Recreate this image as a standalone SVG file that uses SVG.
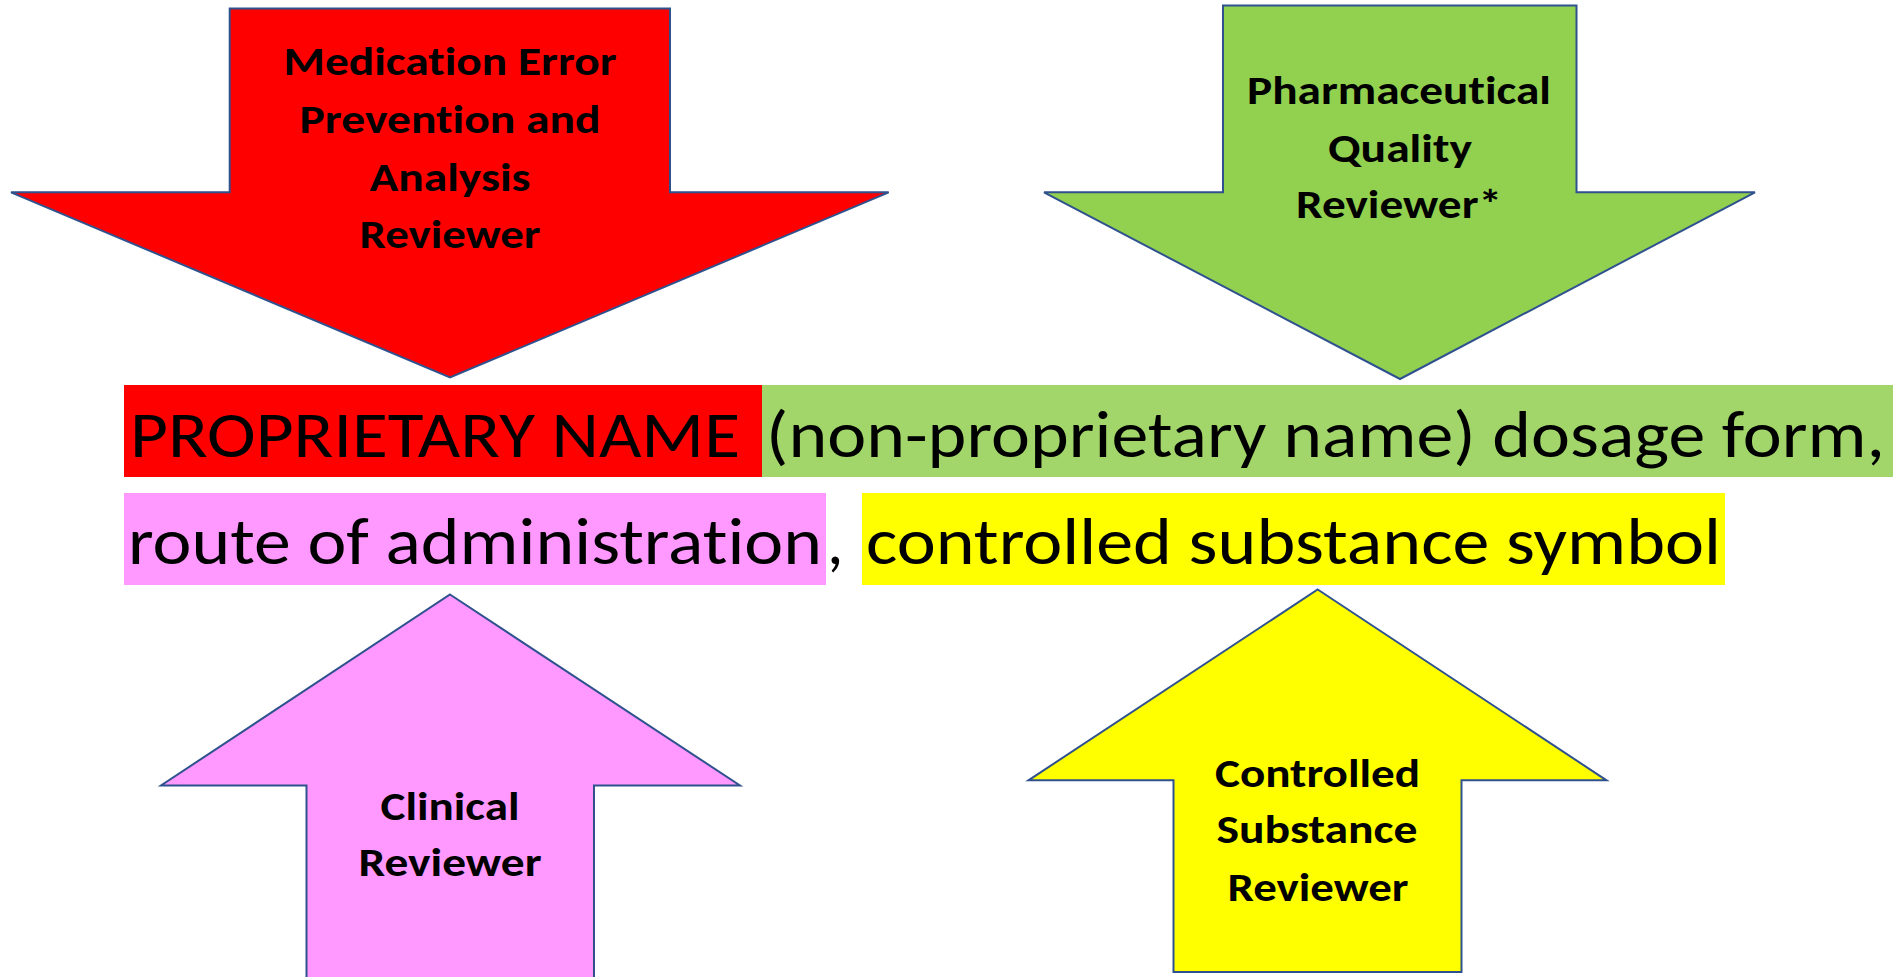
<svg xmlns="http://www.w3.org/2000/svg" width="1896" height="977" viewBox="0 0 1896 977">
<style>
.arrow{stroke:#2F528F;stroke-width:2;stroke-linejoin:miter}
text{font-variant-ligatures:none;font-feature-settings:"liga" 0,"clig" 0}
.lbl{font-family:Carlito,Calibri,Lato,"Liberation Sans",sans-serif;font-weight:700;font-size:41px;fill:#000;text-anchor:middle}
.main{font-family:Carlito,Calibri,Lato,"Liberation Sans",sans-serif;font-weight:400;font-size:66px;fill:#000}
</style>
<rect width="1896" height="977" fill="#fff"/>
<g id="name-line1">
<rect x="124" y="385" width="638" height="92" fill="#FF0000"/>
<rect x="762" y="385" width="1131" height="92" fill="#A2D56A"/>
<text class="main" x="130" y="457" textLength="610" lengthAdjust="spacingAndGlyphs">PROPRIETARY NAME</text>
<text class="main" x="766" y="457" textLength="1119" lengthAdjust="spacingAndGlyphs">(non-proprietary name) dosage form,</text>
</g>
<g id="name-line2">
<rect x="124" y="493" width="702" height="92" fill="#FF99FF"/>
<rect x="862" y="493" width="863" height="92" fill="#FFFF00"/>
<text class="main" x="128" y="564" textLength="694" lengthAdjust="spacingAndGlyphs">route of administration</text>
<text class="main" x="827" y="564">,</text>
<text class="main" x="866" y="564" textLength="855" lengthAdjust="spacingAndGlyphs">controlled substance symbol</text>
</g>
<g id="medication-error-reviewer">
<polygon class="arrow" fill="#FF0000" points="229.7,8.5 670,8.5 670,192.3 888.7,192.3 450,377.5 11,192.3 229.7,192.3"/>
<text class="lbl" x="450" y="75" textLength="333" lengthAdjust="spacingAndGlyphs">Medication Error</text>
<text class="lbl" x="450" y="133" textLength="301" lengthAdjust="spacingAndGlyphs">Prevention and</text>
<text class="lbl" x="450" y="191" textLength="161" lengthAdjust="spacingAndGlyphs">Analysis</text>
<text class="lbl" x="450" y="248" textLength="181" lengthAdjust="spacingAndGlyphs">Reviewer</text>
</g>
<g id="pharmaceutical-quality-reviewer">
<polygon class="arrow" fill="#92D050" points="1223,5.5 1576.5,5.5 1576.5,192.3 1755,192.3 1400,379 1044,192.3 1223,192.3"/>
<text class="lbl" x="1399" y="104" textLength="304" lengthAdjust="spacingAndGlyphs">Pharmaceutical</text>
<text class="lbl" x="1400" y="162" textLength="144" lengthAdjust="spacingAndGlyphs">Quality</text>
<text class="lbl" x="1399" y="218" textLength="206" lengthAdjust="spacingAndGlyphs">Reviewer*</text>
</g>
<g id="clinical-reviewer">
<polygon class="arrow" fill="#FF99FF" points="450,594.5 740,785.5 594,785.5 594,990 306.5,990 306.5,785.5 161,785.5"/>
<text class="lbl" x="450" y="820" textLength="139" lengthAdjust="spacingAndGlyphs">Clinical</text>
<text class="lbl" x="450" y="876" textLength="183" lengthAdjust="spacingAndGlyphs">Reviewer</text>
</g>
<g id="controlled-substance-reviewer">
<polygon class="arrow" fill="#FFFF00" points="1317.7,589.5 1606.5,780.3 1461.5,780.3 1461.5,972 1173.5,972 1173.5,780.3 1028.5,780.3"/>
<text class="lbl" x="1317.5" y="787" textLength="205" lengthAdjust="spacingAndGlyphs">Controlled</text>
<text class="lbl" x="1317" y="843" textLength="201" lengthAdjust="spacingAndGlyphs">Substance</text>
<text class="lbl" x="1318" y="901" textLength="181" lengthAdjust="spacingAndGlyphs">Reviewer</text>
</g>
<g id="connectors"/>
</svg>
